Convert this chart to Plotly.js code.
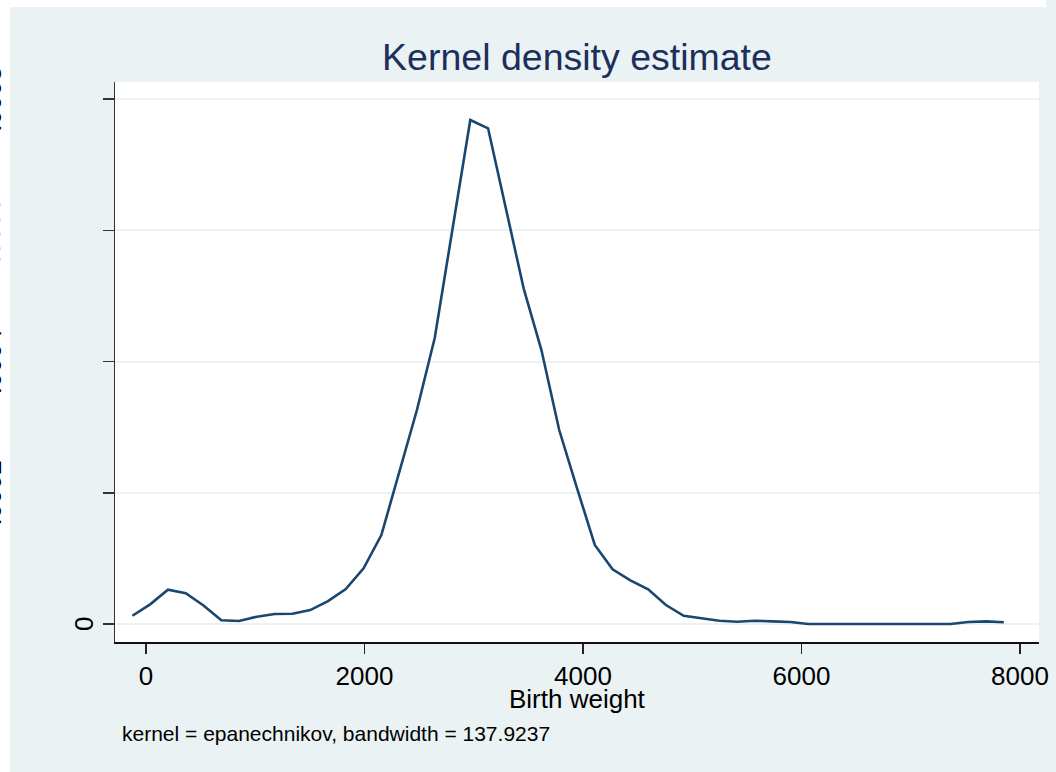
<!DOCTYPE html>
<html>
<head>
<meta charset="utf-8">
<script src="https://cdn.plot.ly/plotly-3.0.1.min.js"></script>
<style>html,body{margin:0;padding:0;background:#fff;}#chart{width:1056px;height:772px;}</style>
</head>
<body>
<div id="chart"></div>
<script>
// Evaluation points (Birth weight) of the kernel density estimate
const birthWeight = [-125, 37.8, 200.6, 363.4, 526.2, 689, 851.8, 1014.6, 1177.4, 1340.2,
  1503, 1665.8, 1828.6, 1991.4, 2154.2, 2317, 2479.8, 2642.6, 2805.4, 2968.2,
  3131, 3293.8, 3456.6, 3619.4, 3782.2, 3945, 4107.8, 4270.6, 4433.4, 4596.2,
  4759, 4921.8, 5084.6, 5247.4, 5410.2, 5573, 5735.8, 5898.6, 6061.4, 6224.2,
  6387, 6549.8, 6712.6, 6875.4, 7038.2, 7201, 7363.8, 7526.6, 7689.4, 7852.2];
// Density values
const density = [1.26e-5, 3.00e-5, 5.23e-5, 4.68e-5, 2.82e-5, 5.6e-6, 4.6e-6, 1.11e-5, 1.52e-5, 1.57e-5,
  2.13e-5, 3.50e-5, 5.33e-5, 8.49e-5, 1.356e-4, 2.316e-4, 3.261e-4, 4.358e-4, 6.034e-4, 7.680e-4,
  7.553e-4, 6.354e-4, 5.115e-4, 4.175e-4, 2.956e-4, 2.072e-4, 1.204e-4, 8.34e-5, 6.66e-5, 5.29e-5,
  2.90e-5, 1.26e-5, 8.7e-6, 5.0e-6, 3.5e-6, 5.0e-6, 4.1e-6, 3.0e-6, 0, 0,
  0, 0, 0, 0, 0, 0, 0, 3.0e-6, 4.1e-6, 2.6e-6];

const xTickVals = [0, 2000, 4000, 6000, 8000];
const xTickText = ['0', '2000', '4000', '6000', '8000'];
const yTickVals = [0, 0.0002, 0.0004, 0.0006, 0.0008];
const yTickText = ['0', '.0002', '.0004', '.0006', '.0008'];

const titleText = 'Kernel density estimate';
const xTitleText = 'Birth weight';
const noteText = 'kernel = epanechnikov, bandwidth = 137.9237';

const W = 1056, H = 772;
const M = {l: 115, r: 17, t: 82, b: 130};
const PW = W - M.l - M.r, PH = H - M.t - M.b;
const px = v => (v - M.l) / PW;          // pixel x -> paper x
const py = v => (H - M.b - v) / PH;      // pixel y -> paper y

const FONT = 'Liberation Sans, Arial, Helvetica, sans-serif';
const BG = '#EAF2F3';

const annotations = yTickVals.map((v, i) => ({
  xref: 'paper', yref: 'y', x: 0, y: v,
  xshift: i === 0 ? -31 : -123.3,
  text: yTickText[i], showarrow: false, textangle: -90,
  xanchor: 'center', yanchor: 'middle',
  font: {family: FONT, size: 26, color: '#000'}
}));
annotations.push({
  xref: 'paper', yref: 'paper', x: 0.5, y: py(699),
  xanchor: 'center', yanchor: 'middle', showarrow: false,
  text: xTitleText, font: {family: FONT, size: 26, color: '#000'}
});
annotations.push({
  xref: 'paper', yref: 'paper', x: px(120), y: py(733),
  xanchor: 'left', yanchor: 'middle', showarrow: false,
  text: noteText, font: {family: FONT, size: 21, color: '#000'}
});

const trace = {
  x: birthWeight, y: density, type: 'scatter', mode: 'lines',
  line: {color: '#1A476F', width: 2.6}, hoverinfo: 'skip'
};

const layout = {
  width: W, height: H, autosize: false,
  margin: M,
  paper_bgcolor: BG, plot_bgcolor: '#FFFFFF',
  showlegend: false,
  title: {
    text: titleText, xref: 'paper', x: 0.5, xanchor: 'center',
    yref: 'container', y: 1 - 57 / H, yanchor: 'middle',
    font: {family: FONT, size: 37.5, color: '#1C2F5C'}
  },
  xaxis: {
    range: [-284, 8174], tickvals: xTickVals, ticktext: xTickText,
    showgrid: false, zeroline: false,
    showline: true, linecolor: '#111', linewidth: 1.5,
    ticks: 'outside', ticklen: 10, tickwidth: 1.5, tickcolor: '#222',
    tickfont: {family: FONT, size: 26, color: '#000'}
  },
  yaxis: {
    range: [-2.74e-5, 8.259e-4], tickvals: yTickVals,
    showticklabels: false,
    showgrid: true, gridcolor: BG, gridwidth: 2, zeroline: false,
    showline: true, linecolor: '#333', linewidth: 1.5,
    ticks: 'outside', ticklen: 11, tickwidth: 1.5, tickcolor: '#333'
  },
  annotations: annotations,
  shapes: [
    {type: 'rect', xref: 'paper', yref: 'paper', layer: 'below',
     x0: px(0), x1: px(10), y0: py(H), y1: py(0), fillcolor: '#FFFFFF', line: {width: 0}},
    {type: 'rect', xref: 'paper', yref: 'paper', layer: 'below',
     x0: px(0), x1: px(1046), y0: py(7), y1: py(0), fillcolor: '#FFFFFF', line: {width: 0}}
  ]
};

Plotly.newPlot('chart', [trace], layout, {staticPlot: true, displayModeBar: false});
</script>
</body>
</html>
